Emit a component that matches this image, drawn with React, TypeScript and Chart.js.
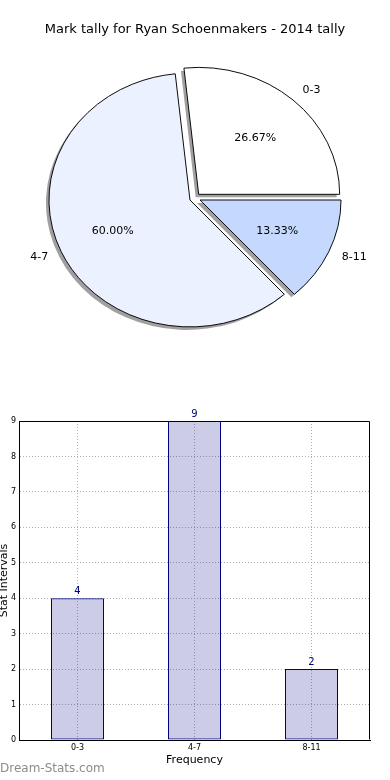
import React, { useEffect, useRef } from "react";
import { Chart, registerables } from "chart.js";

Chart.register(...registerables);

const TITLE = "Mark tally for Ryan Schoenmakers - 2014 tally";
const CATEGORIES = ["0-3", "4-7", "8-11"];
const COUNTS = [4, 9, 2];
const SLICE_COLORS = ["#ffffff", "#ebf1ff", "#c5d9ff"];
const Y_MIN = 0;
const Y_MAX = 9;
const Y_STEP = 1;
const Y_TITLE = "Stat Intervals";
const X_TITLE = "Frequency";
const WATERMARK = "Dream-Stats.com";

const FONT = "'DejaVu Sans', sans-serif";
const SQUASH = 0.9; // pie drawn as ellipse (vertical / horizontal)
const EXPLODE = 5.5;
const SHADOW_DX = -3;
const SHADOW_DY = 3;

const piePlugin = {
  id: "piePlugin",
  beforeDatasetsDraw(chart: any) {
    const ctx = chart.ctx;
    const arcs = chart.getDatasetMeta(0).data;
    const geo = arcs.map((el: any) => {
      const p = el.getProps(["x", "y", "startAngle", "endAngle", "outerRadius"], true);
      const mid = (p.startAngle + p.endAngle) / 2;
      return { ...p, mid, dx: EXPLODE * Math.cos(mid), dy: EXPLODE * SQUASH * Math.sin(mid) };
    });
    geo.forEach((g: any) => {
      ctx.save();
      ctx.translate(g.x + g.dx + SHADOW_DX, g.y + g.dy + SHADOW_DY);
      ctx.scale(1, SQUASH);
      ctx.beginPath();
      ctx.moveTo(0, 0);
      ctx.arc(0, 0, g.outerRadius, g.startAngle, g.endAngle);
      ctx.closePath();
      ctx.fillStyle = "#a0a0a0";
      ctx.fill();
      ctx.restore();
    });
    arcs.forEach((el: any, i: number) => {
      const g = geo[i];
      ctx.save();
      ctx.translate(g.x + g.dx, g.y + g.dy);
      ctx.scale(1, SQUASH);
      ctx.translate(-g.x, -g.y);
      el.draw(ctx);
      ctx.restore();
    });
    return false;
  },
  afterDraw(chart: any) {
    const ctx = chart.ctx;
    const arcs = chart.getDatasetMeta(0).data;
    const values: number[] = chart.data.datasets[0].data;
    const labels: string[] = chart.data.labels;
    const total = values.reduce((a, b) => a + b, 0);
    ctx.save();
    ctx.fillStyle = "#000";
    ctx.font = `13px ${FONT}`;
    ctx.textAlign = "center";
    ctx.textBaseline = "middle";
    ctx.fillText(TITLE, chart.width / 2, 30);
    ctx.font = `11px ${FONT}`;
    arcs.forEach((el: any, i: number) => {
      const p = el.getProps(["x", "y", "startAngle", "endAngle", "outerRadius"], true);
      const mid = (p.startAngle + p.endAngle) / 2;
      const cx = p.x + EXPLODE * Math.cos(mid);
      const cy = p.y + EXPLODE * SQUASH * Math.sin(mid);
      const R = p.outerRadius;
      const c = Math.cos(mid);
      const s = Math.sin(mid);
      ctx.textAlign = c > 0 ? "left" : "right";
      ctx.fillText(labels[i], cx + 1.1 * R * c, cy + 1.1 * R * SQUASH * s);
      ctx.textAlign = "center";
      const pct = ((values[i] / total) * 100).toFixed(2) + "%";
      ctx.fillText(pct, cx + 0.6 * R * c, cy + 0.6 * R * SQUASH * s);
    });
    ctx.restore();
  },
};

const barPlugin = {
  id: "barPlugin",
  afterDraw(chart: any) {
    const ctx = chart.ctx;
    const { left, right, top, bottom } = chart.chartArea;
    ctx.save();
    ctx.strokeStyle = "#000";
    ctx.lineWidth = 1;
    ctx.beginPath();
    ctx.moveTo(Math.round(left) + 0.5, Math.round(top) + 0.5);
    ctx.lineTo(Math.round(right) - 0.5, Math.round(top) + 0.5);
    ctx.lineTo(Math.round(right) - 0.5, Math.round(bottom) - 0.5);
    ctx.stroke();
    const meta = chart.getDatasetMeta(0);
    const vals: number[] = chart.data.datasets[0].data;
    ctx.fillStyle = "#00007f";
    ctx.font = `10px ${FONT}`;
    ctx.textAlign = "center";
    ctx.textBaseline = "alphabetic";
    meta.data.forEach((el: any, i: number) => {
      ctx.fillText(String(vals[i]), el.x, el.y - 4);
    });
    ctx.fillStyle = "#8c8c8c";
    ctx.font = `12px ${FONT}`;
    ctx.textAlign = "left";
    ctx.textBaseline = "middle";
    ctx.fillText(WATERMARK, 0, chart.height - 11);
    ctx.restore();
  },
};

export default function App() {
  const pieRef = useRef<HTMLCanvasElement | null>(null);
  const barRef = useRef<HTMLCanvasElement | null>(null);

  useEffect(() => {
    Chart.defaults.font.family = FONT;
    const pie = new Chart(pieRef.current as HTMLCanvasElement, {
      type: "pie",
      data: {
        labels: [...CATEGORIES].reverse(),
        datasets: [
          {
            data: [...COUNTS].reverse(),
            backgroundColor: [...SLICE_COLORS].reverse(),
            borderColor: "#000",
            borderWidth: 1,
            borderJoinStyle: "miter",
          } as any,
        ],
      },
      options: {
        responsive: false,
        animation: false,
        devicePixelRatio: 1,
        rotation: 90,
        layout: { padding: { left: 53.5, right: 53.5, top: 56.5, bottom: 40.5 } },
        plugins: { legend: { display: false }, tooltip: { enabled: false }, title: { display: false } },
      } as any,
      plugins: [piePlugin],
    });

    const gridCommon = {
      color: "#b0b0b0",
      lineWidth: 1,
      drawTicks: false,
    };
    const bar = new Chart(barRef.current as HTMLCanvasElement, {
      type: "bar",
      data: {
        labels: CATEGORIES,
        datasets: [
          {
            data: COUNTS,
            backgroundColor: "rgba(0,0,128,0.2)",
            borderColor: "#000080",
            borderWidth: 1,
            borderSkipped: false,
            barPercentage: 53 / 117,
            categoryPercentage: 1,
          } as any,
        ],
      },
      options: {
        responsive: false,
        animation: false,
        devicePixelRatio: 1,
        layout: { padding: { left: 0, right: 20, top: 21, bottom: 0 } },
        plugins: { legend: { display: false }, tooltip: { enabled: false } },
        scales: {
          x: {
            offset: true,
            grid: { ...gridCommon, offset: false },
            border: { display: true, color: "#000", width: 1, dash: [1, 2] },
            ticks: { color: "#000", font: { size: 8 }, padding: 3, maxRotation: 0 },
            title: { display: true, text: X_TITLE, color: "#000", font: { size: 11 }, padding: { top: 0, bottom: 13.4 } },
            afterFit: (s: any) => {
              s.height = 40;
            },
          },
          y: {
            min: Y_MIN,
            max: Y_MAX,
            grid: gridCommon,
            border: { display: true, color: "#000", width: 1, dash: [1, 2] },
            ticks: { stepSize: Y_STEP, color: "#000", font: { size: 8 }, padding: 3 },
            title: { display: true, text: Y_TITLE, color: "#000", font: { size: 11 }, padding: { top: -2.6, bottom: 0 } },
            afterFit: (s: any) => {
              s.width = 19;
            },
          },
        },
      } as any,
      plugins: [barPlugin],
    });
    return () => {
      pie.destroy();
      bar.destroy();
    };
  }, []);

  return (
    <div style={{ position: "absolute", left: 0, top: 0, width: 390, height: 780, background: "#fff" }}>
      <canvas ref={pieRef} width={390} height={380} style={{ position: "absolute", left: 0, top: 0 }} />
      <canvas ref={barRef} width={390} height={380} style={{ position: "absolute", left: 0, top: 400 }} />
    </div>
  );
}
